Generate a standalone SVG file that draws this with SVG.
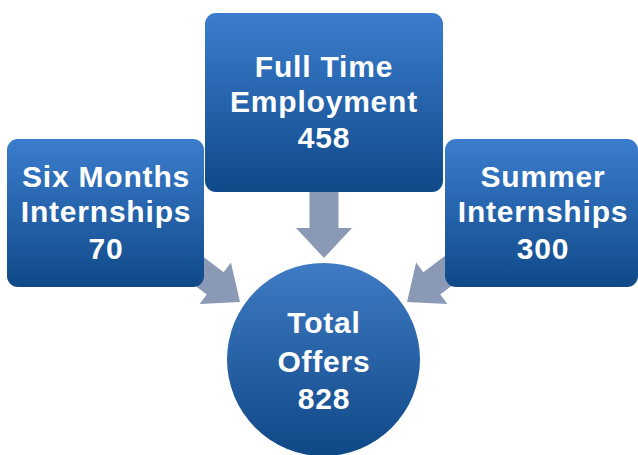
<svg xmlns="http://www.w3.org/2000/svg" width="638" height="455" viewBox="0 0 638 455">
<defs>
<linearGradient id="gBox" x1="0" y1="0" x2="0" y2="1">
<stop offset="0" stop-color="#3b7dcd"/>
<stop offset="1" stop-color="#0f4988"/>
</linearGradient>
<linearGradient id="gCirc" x1="0" y1="0" x2="0" y2="1">
<stop offset="0" stop-color="#3f7bc4"/>
<stop offset="1" stop-color="#0f4886"/>
</linearGradient>
<polygon id="arr" points="0,0 -31,-26 -31,-14 -85,-14 -85,14 -31,14 -31,26"/>
</defs>
<style>
.box{fill:url(#gBox)}
.circ{fill:url(#gCirc)}
.arrow{fill:#8a99b6}
text{font-family:"Liberation Sans",Arial,sans-serif;font-weight:bold;font-size:30px;fill:#ffffff;text-anchor:middle;letter-spacing:0.8px}
</style>
<g id="connectors">
<use href="#arr" class="arrow" transform="translate(240,302) rotate(37)"/>
<use href="#arr" class="arrow" transform="translate(407,302) scale(-1,1) rotate(37)"/>
<polygon class="arrow" points="309.5,185 338.5,185 338.5,228 352,228 324,258 296,228 309.5,228"/>
</g>
<g id="fulltime">
<rect class="box" x="205" y="13" width="238" height="179" rx="11"/>
<text x="324" y="77">Full Time</text>
<text x="324" y="112">Employment</text>
<text x="324" y="148">458</text>
</g>
<g id="sixmonths">
<rect class="box" x="7" y="139" width="197" height="148" rx="11"/>
<text x="106" y="187">Six Months</text>
<text x="106" y="222">Internships</text>
<text x="106" y="259">70</text>
</g>
<g id="summer">
<rect class="box" x="445" y="139" width="193" height="148" rx="11"/>
<text x="543" y="187">Summer</text>
<text x="543" y="222">Internships</text>
<text x="543" y="259">300</text>
</g>
<g id="total">
<circle class="circ" cx="323.5" cy="359.5" r="96.5"/>
<text x="324" y="333">Total</text>
<text x="324" y="372">Offers</text>
<text x="324" y="409">828</text>
</g>
</svg>
